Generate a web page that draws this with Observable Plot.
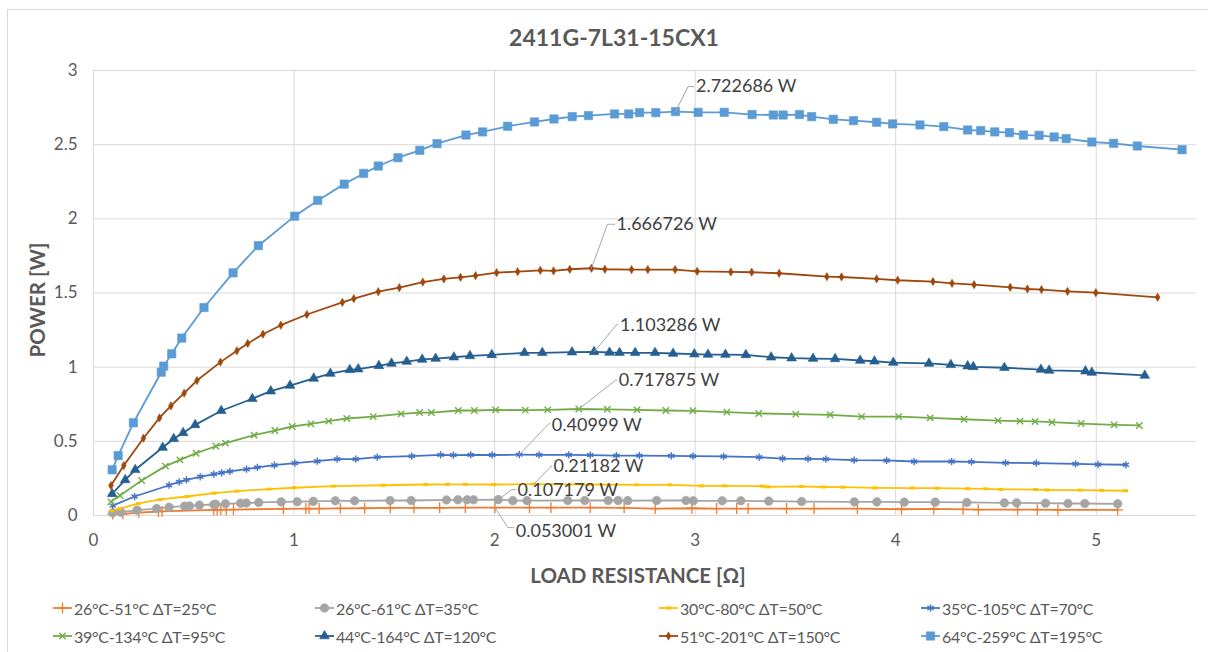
<!DOCTYPE html>
<html><head><meta charset="utf-8">
<script src="https://cdn.jsdelivr.net/npm/d3@7"></script>
<script src="https://cdn.jsdelivr.net/npm/@observablehq/plot@0.6"></script>
<style>
body{margin:0;background:#fff;font-family:Lato,"Noto Sans",sans-serif;}
#wrap{position:relative;width:1208px;height:652px;overflow:hidden;background:#fff;}
#frame{position:absolute;left:7px;top:9px;width:1300px;height:700px;border-left:1px solid #D9D9D9;border-top:1px solid #D9D9D9;box-sizing:border-box;pointer-events:none;}
#chart{position:absolute;left:0;top:0;}
.lg{position:absolute;display:flex;align-items:center;font-size:16px;letter-spacing:-0.3px;color:#595959;white-space:nowrap;}
.lg svg{margin-right:2px;}
</style></head>
<body><div id="wrap"><div id="frame"></div><div id="chart"></div><div id="legend"></div></div>
<script>
// ---------- data (x = load resistance [Ω], y = power [W]) ----------
const title = "2411G-7L31-15CX1";
const xTitle = "LOAD RESISTANCE [Ω]";
const yTitle = "POWER [W]";
const xTicks = [0,1,2,3,4,5];
const yTicks = [0,0.5,1,1.5,2,2.5,3];

const s26_51 = [[0.096,0.009],[0.146,0.011],[0.226,0.020],[0.324,0.027],[0.342,0.028],[0.600,0.038],[0.617,0.038],[0.635,0.039],[0.662,0.039],[0.698,0.040],[0.947,0.045],[1.059,0.047],[1.075,0.047],[1.125,0.047],[1.231,0.048],[1.352,0.049],[1.480,0.051],[1.598,0.052],[1.726,0.052],[1.854,0.053],[2.002,0.053001],[2.174,0.053],[2.281,0.053],[2.477,0.053],[2.646,0.052],[2.801,0.046],[2.984,0.049],[3.107,0.047],[3.207,0.047],[3.264,0.047],[3.456,0.047],[3.593,0.047],[3.809,0.046],[4.029,0.042],[4.190,0.044],[4.336,0.041],[4.412,0.039],[4.608,0.039],[4.706,0.039],[4.809,0.038],[5.107,0.038]];
const s26_61 = [[0.096,0.018],[0.137,0.022],[0.217,0.036],[0.315,0.047],[0.377,0.056],[0.454,0.063],[0.479,0.064],[0.528,0.070],[0.600,0.074],[0.609,0.076],[0.658,0.079],[0.733,0.083],[0.762,0.084],[0.824,0.088],[0.936,0.092],[1.016,0.093],[1.096,0.095],[1.206,0.099],[1.302,0.099],[1.479,0.101],[1.584,0.101],[1.760,0.105],[1.817,0.106],[1.863,0.106],[1.895,0.106],[2.018,0.107179],[2.091,0.100],[2.162,0.100],[2.365,0.101],[2.450,0.101],[2.566,0.101],[2.616,0.101],[2.664,0.100],[2.808,0.101],[2.954,0.101],[2.991,0.099],[3.135,0.099],[3.228,0.099],[3.367,0.097],[3.531,0.094],[3.794,0.092],[3.906,0.092],[4.043,0.090],[4.197,0.090],[4.355,0.088],[4.542,0.085],[4.603,0.085],[4.747,0.083],[4.859,0.081],[4.943,0.081],[5.107,0.079]];
const s30_80 = [[0.093,0.032],[0.130,0.045],[0.224,0.081],[0.334,0.108],[0.467,0.128],[0.600,0.151],[0.715,0.164],[0.875,0.178],[1.000,0.187],[1.196,0.198],[1.445,0.204],[1.658,0.209],[1.765,0.210],[1.854,0.210],[1.996,0.209],[2.196,0.21182],[2.477,0.209],[2.708,0.207],[2.872,0.207],[3.032,0.200],[3.148,0.200],[3.335,0.198],[3.362,0.193],[3.531,0.196],[3.638,0.192],[3.736,0.191],[3.896,0.186],[4.083,0.185],[4.207,0.184],[4.359,0.181],[4.448,0.180],[4.524,0.176],[4.697,0.175],[4.754,0.172],[4.920,0.171],[5.027,0.169],[5.146,0.167]];
const s35_105 = [[0.096,0.067],[0.205,0.128],[0.377,0.204],[0.427,0.227],[0.463,0.240],[0.532,0.261],[0.600,0.279],[0.639,0.288],[0.680,0.297],[0.763,0.312],[0.817,0.324],[0.902,0.339],[1.004,0.353],[1.116,0.366],[1.215,0.380],[1.308,0.380],[1.415,0.393],[1.587,0.400],[1.731,0.409],[1.794,0.407],[1.881,0.409],[1.988,0.408],[2.123,0.40999],[2.222,0.409],[2.370,0.409],[2.477,0.407],[2.607,0.404],[2.722,0.404],[2.881,0.402],[2.989,0.400],[3.142,0.398],[3.319,0.393],[3.436,0.384],[3.563,0.382],[3.652,0.380],[3.793,0.373],[3.955,0.371],[4.092,0.364],[4.279,0.364],[4.378,0.362],[4.548,0.355],[4.701,0.353],[4.897,0.348],[5.009,0.344],[5.148,0.342]];
const s39_134 = [[0.087,0.092],[0.132,0.135],[0.240,0.236],[0.359,0.333],[0.431,0.375],[0.512,0.420],[0.610,0.467],[0.658,0.488],[0.801,0.542],[0.904,0.573],[0.991,0.600],[1.084,0.618],[1.173,0.636],[1.263,0.654],[1.395,0.667],[1.534,0.685],[1.626,0.694],[1.685,0.694],[1.819,0.708],[1.899,0.708],[2.005,0.712],[2.153,0.710],[2.265,0.712],[2.420,0.717875],[2.562,0.716],[2.710,0.712],[2.854,0.708],[2.989,0.706],[3.158,0.697],[3.317,0.688],[3.502,0.683],[3.673,0.679],[3.830,0.667],[4.015,0.667],[4.172,0.658],[4.341,0.649],[4.510,0.640],[4.620,0.636],[4.695,0.634],[4.779,0.629],[4.925,0.620],[5.089,0.611],[5.215,0.607]];
const s44_164 = [[0.093,0.146],[0.158,0.240],[0.208,0.308],[0.345,0.458],[0.400,0.517],[0.447,0.557],[0.507,0.611],[0.637,0.706],[0.792,0.787],[0.884,0.838],[0.980,0.876],[1.098,0.924],[1.181,0.957],[1.278,0.982],[1.320,0.987],[1.423,1.009],[1.486,1.025],[1.562,1.038],[1.639,1.052],[1.706,1.058],[1.797,1.067],[1.877,1.076],[1.986,1.083],[2.149,1.097],[2.238,1.097],[2.386,1.101],[2.496,1.103286],[2.573,1.099],[2.623,1.097],[2.701,1.097],[2.800,1.097],[2.890,1.092],[2.996,1.088],[3.064,1.085],[3.151,1.085],[3.253,1.083],[3.379,1.067],[3.481,1.061],[3.588,1.058],[3.698,1.056],[3.823,1.045],[3.894,1.040],[3.988,1.031],[4.166,1.025],[4.275,1.016],[4.359,1.007],[4.387,1.002],[4.542,0.996],[4.724,0.984],[4.765,0.978],[4.946,0.973],[4.978,0.964],[5.242,0.944]];
const s51_201 = [[0.087,0.202],[0.151,0.337],[0.249,0.521],[0.329,0.658],[0.386,0.739],[0.452,0.825],[0.516,0.910],[0.633,1.034],[0.715,1.110],[0.769,1.160],[0.845,1.222],[0.934,1.283],[1.064,1.355],[1.241,1.437],[1.298,1.462],[1.420,1.509],[1.525,1.536],[1.642,1.574],[1.747,1.595],[1.830,1.606],[1.905,1.617],[2.010,1.637],[2.115,1.644],[2.228,1.653],[2.294,1.649],[2.375,1.660],[2.483,1.666726],[2.550,1.660],[2.683,1.658],[2.764,1.658],[2.900,1.658],[3.010,1.646],[3.178,1.642],[3.282,1.640],[3.419,1.633],[3.657,1.610],[3.730,1.608],[3.905,1.595],[4.010,1.586],[4.186,1.577],[4.281,1.565],[4.391,1.556],[4.571,1.538],[4.657,1.527],[4.727,1.523],[4.857,1.511],[4.998,1.502],[5.306,1.471]];
const s64_259 = [[0.093,0.308],[0.123,0.404],[0.199,0.625],[0.338,0.966],[0.350,1.007],[0.390,1.090],[0.440,1.196],[0.551,1.402],[0.696,1.636],[0.822,1.819],[1.003,2.018],[1.118,2.124],[1.250,2.234],[1.347,2.306],[1.420,2.356],[1.518,2.412],[1.627,2.462],[1.713,2.507],[1.857,2.565],[1.940,2.586],[2.065,2.624],[2.199,2.653],[2.296,2.673],[2.387,2.689],[2.468,2.696],[2.598,2.707],[2.669,2.707],[2.723,2.716],[2.804,2.716],[2.902,2.722686],[3.015,2.718],[3.145,2.718],[3.284,2.703],[3.390,2.700],[3.439,2.700],[3.520,2.703],[3.581,2.689],[3.689,2.671],[3.790,2.662],[3.905,2.651],[3.985,2.640],[4.121,2.633],[4.240,2.622],[4.359,2.599],[4.424,2.595],[4.494,2.586],[4.567,2.581],[4.637,2.565],[4.715,2.563],[4.790,2.552],[4.850,2.541],[4.978,2.518],[5.087,2.509],[5.205,2.491],[5.428,2.466]];

const seriesNames = ["26°C-51°C ΔT=25°C","26°C-61°C ΔT=35°C","30°C-80°C ΔT=50°C","35°C-105°C ΔT=70°C","39°C-134°C ΔT=95°C","44°C-164°C ΔT=120°C","51°C-201°C ΔT=150°C","64°C-259°C ΔT=195°C"];
const seriesData = [s26_51, s26_61, s30_80, s35_105, s39_134, s44_164, s51_201, s64_259];

// ---------- styles ----------
const dash = {draw(ctx, size){ const r = Math.sqrt(size)/1.4; ctx.moveTo(-r,0); ctx.lineTo(r,0); }};
const styles = [
  {color:"#ED7D31", symbol:"plus", r:3.6, filled:false, sw:1.3},
  {color:"#A5A5A5", symbol:"circle", r:4.3, filled:true, sw:0.6},
  {color:"#FFC000", symbol:dash, r:2.0, filled:false, sw:3},
  {color:"#4472C4", symbol:"asterisk", r:3.4, filled:false, sw:1.4},
  {color:"#70AD47", symbol:"times", r:3.0, filled:false, sw:1.4},
  {color:"#255E91", symbol:"triangle", r:3.6, filled:true, sw:0.6},
  {color:"#9E480E", symbol:"diamond", r:2.5, filled:true, sw:0.6},
  {color:"#5B9BD5", symbol:"square", r:4.7, filled:true, sw:0.6}
];
// label layout: elbow offset and text offset (px) relative to peak point
const labelLayout = [
  {ex:12.8, ey:20, tx:20.8, ty:24},
  {ex:13.6, ey:-10, tx:19.3, ty:-9},
  {ex:17, ey:-17.6, tx:19.7, ty:-17.6},
  {ex:29.6, ey:-31, tx:32.6, ty:-29},
  {ex:37, ey:-29, tx:40, ty:-28.5},
  {ex:22.5, ey:-27, tx:26, ty:-27},
  {ex:16, ey:-44, tx:25, ty:-44},
  {ex:12.5, ey:-25, tx:20.5, ty:-25}
];

const W = 1208, H = 590, mL = 93, mR = 12, mT = 70, mB = 75;
const xDom = [0, 5.5], yDom = [0, 3];
const kx = (xDom[1]-xDom[0])/(W-mL-mR), ky = (yDom[1]-yDom[0])/(H-mT-mB);
const txt = "#595959";

const marks = [
  Plot.gridX(xTicks.slice(1), {stroke:"#D9D9D9", strokeOpacity:1}),
  Plot.gridY(yTicks.slice(1), {stroke:"#D9D9D9", strokeOpacity:1}),
  Plot.ruleY([0], {stroke:"#D9D9D9"}),
  Plot.ruleX([0], {stroke:"#D9D9D9"}),
  Plot.axisX(xTicks, {tickSize:0, tickPadding:18, fontSize:17, fill:txt, tickFormat:d=>String(d), label:null}),
  Plot.axisY(yTicks, {tickSize:0, tickPadding:16, fontSize:17, fill:txt, tickFormat:d=>String(d), label:null}),
];
seriesData.forEach((data, i) => {
  const st = styles[i];
  marks.push(Plot.line(data, {x:d=>d[0], y:d=>d[1], stroke:st.color, strokeWidth:1.8}));
});
seriesData.forEach((data, i) => {
  const st = styles[i];
  marks.push(Plot.dot(data, {x:d=>d[0], y:d=>d[1], symbol:st.symbol, r:st.r,
    fill: st.filled ? st.color : "none", stroke: st.color, strokeWidth: st.sw}));
});
seriesData.forEach((data, i) => {
  const peak = data.reduce((a,b)=> b[1] > a[1] ? b : a);
  const L = labelLayout[i];
  const pts = [
    [peak[0], peak[1]],
    [peak[0] + L.ex*kx, peak[1] - L.ey*ky],
    [peak[0] + (L.tx-2)*kx, peak[1] - L.ey*ky]
  ];
  marks.push(Plot.line(pts, {x:d=>d[0], y:d=>d[1], stroke:"#A6A6A6", strokeWidth:1}));
  marks.push(Plot.text([peak], {x:d=>d[0], y:d=>d[1], text:d=>`${d[1]} W`, dx:L.tx, dy:L.ty,
    textAnchor:"start", lineAnchor:"middle", fontSize:18, fill:"#404040"}));
});
marks.push(Plot.text([title], {frameAnchor:"top", dy:-32, dx:-31, textAnchor:"middle", lineAnchor:"middle", fontSize:23, fontWeight:"bold", fill:txt}));
marks.push(Plot.text([xTitle], {frameAnchor:"bottom", dy:61, dx:-7, textAnchor:"middle", lineAnchor:"middle", fontSize:20.5, fontWeight:"bold", fill:txt}));
marks.push(Plot.text([yTitle], {frameAnchor:"left", dx:-55, dy:7, rotate:-90, textAnchor:"middle", lineAnchor:"middle", fontSize:20.5, fontWeight:"bold", fill:txt}));

const chart = Plot.plot({
  width:W, height:H, marginLeft:mL, marginRight:mR, marginTop:mT, marginBottom:mB,
  style:{fontFamily:"Lato, 'Noto Sans', sans-serif", background:"transparent", overflow:"visible"},
  x:{domain:xDom}, y:{domain:yDom},
  marks
});
document.getElementById("chart").appendChild(chart);

// legend
const legCols = [53, 315, 659, 921], legRows = [608, 636];
const legend = document.getElementById("legend");
const symMap = {plus:d3.symbolPlus, circle:d3.symbolCircle, asterisk:d3.symbolAsterisk, times:d3.symbolTimes, triangle:d3.symbolTriangle, diamond:d3.symbolDiamond, square:d3.symbolSquare};
seriesNames.forEach((name, i) => {
  const st = styles[i];
  const div = document.createElement("div");
  div.className = "lg";
  div.style.left = legCols[i % 4] + "px";
  div.style.top = (legRows[Math.floor(i/4)] - 11) + "px";
  div.style.height = "22px";
  const sw = d3.create("svg").attr("width", 19).attr("height", 12);
  sw.append("line").attr("x1",0).attr("x2",19).attr("y1",6).attr("y2",6).attr("stroke",st.color).attr("stroke-width",1.8);
  const type = typeof st.symbol === "string" ? symMap[st.symbol] : st.symbol;
  const size = Math.PI * st.r * st.r;
  sw.append("path").attr("transform","translate(9.5,6)").attr("d", d3.symbol(type, size)())
    .attr("fill", st.filled ? st.color : "none").attr("stroke", st.color).attr("stroke-width", st.sw);
  div.appendChild(sw.node());
  const span = document.createElement("span");
  span.textContent = name;
  div.appendChild(span);
  legend.appendChild(div);
});
</script></body></html>
